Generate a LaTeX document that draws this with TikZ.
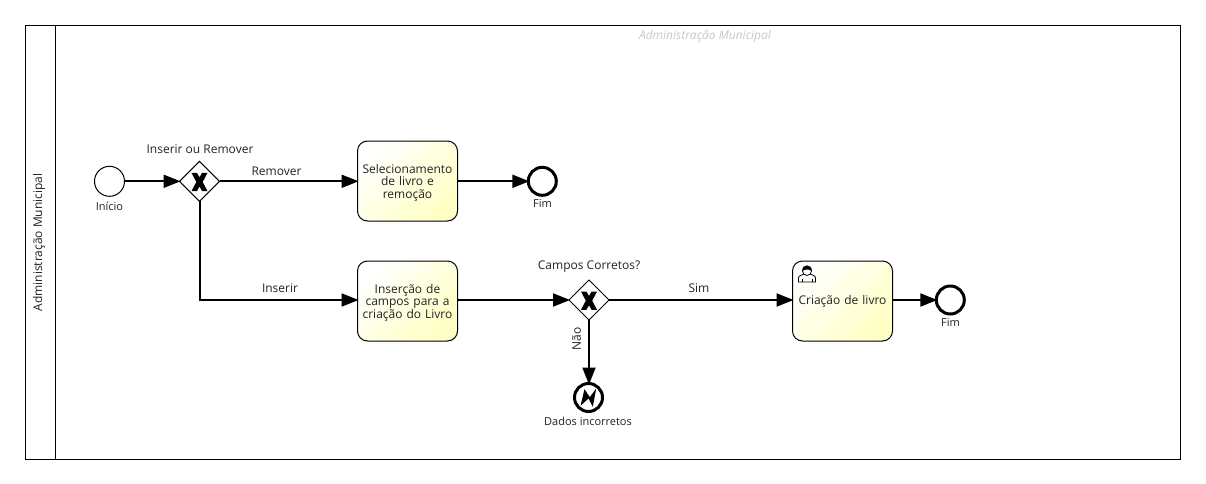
\documentclass[tikz,border=0pt]{standalone}
\usepackage{fontspec}
\setmainfont{Open Sans}
\usetikzlibrary{shapes.geometric,arrows.meta}
\definecolor{ink}{HTML}{222222}
\definecolor{tasky}{HTML}{FFFFC4}
\newcommand{\tstrut}{\rule{0pt}{12.5pt}}
\tikzset{
  x=1pt,y=-1pt,
  every node/.style={font=\fontsize{12}{12.3}\selectfont,text=ink,inner sep=0pt,outer sep=0pt},
  small/.style={font=\fontsize{11}{13}\selectfont},
  flow/.style={draw=black,line width=2pt,-{Triangle[length=17pt,width=13pt]},shorten >=-1pt},
  taskbox/.style={draw=black,line width=1pt,rounded corners=10pt,minimum width=100pt,minimum height=80pt,align=center,left color=white,right color=tasky,shading angle=45,text width=96pt},
  gate/.style={diamond,draw=black,line width=1pt,fill=white,minimum width=40pt,minimum height=40pt,aspect=1},
  startev/.style={circle,draw=black,line width=1pt,fill=white,minimum size=30pt},
  endev/.style={circle,draw=black,line width=3pt,fill=white,minimum size=28pt},
}
\begin{document}
\begin{tikzpicture}
\useasboundingbox (0,0) rectangle (1206,484);
% pool
\node[draw=black,line width=1pt,minimum width=1155pt,minimum height=434pt,anchor=north west] (pool) at (25.5,25.5) {};
\coordinate (laneT) at (55.5,25.5);
\coordinate (laneB) at (55.5,459.5);
\draw[black,line width=1pt] (laneT) -- (laneB);
\node[rotate=90] (pooltitle) at (39,242.5) {Administração Municipal};
\node[font=\fontsize{12}{13}\selectfont\itshape,text=black!22] (watermark) at (705,36.5) {Administração Municipal};
% nodes
\node[startev] (start) at (109.5,181.3) {};
\node[gate] (g1) at (199.5,181.3) {};
\node[taskbox] (t1) at (407.5,181) {\tstrut Selecionamento\\de livro e\\remoção};
\node[endev] (e1) at (542.3,181.3) {};
\node[taskbox] (t2) at (407.5,301) {\tstrut Inserção de\\campos para a\\criação do Livro};
\node[gate] (g2) at (589,300) {};
\node[endev] (err) at (588.5,397.5) {};
\node[taskbox] (t3) at (842.5,301) {Criação de livro};
\node[endev] (e3) at (950.3,300) {};
% labels
\node[small] (lstart) at (109.5,206) {Início};
\node (lg1) at (200,149.5) {Inserir ou Remover};
\node (lrem) at (276.5,171) {Remover};
\node (lins) at (280,288.5) {Inserir};
\node[small] (le1) at (542.5,203) {Fim};
\node (lg2) at (589,267) {Campos Corretos?};
\node (lsim) at (699,288.5) {Sim};
\node[rotate=90] (lnao) at (576.5,339) {Não};
\node[small] (lerr) at (588,421) {Dados incorretos};
\node[small] (le3) at (950.5,322) {Fim};
% flows
\draw[flow] (start) -- (g1);
\draw[flow] (g1) -- (t1.west |- g1);
\draw[flow] (t1.east |- e1) -- (e1);
\draw[flow] (g1.south) |- (t2.west |- g2);
\draw[flow] (t2.east |- g2) -- (g2);
\draw[flow] (g2) -- (t3.west |- g2);
\draw[flow] (t3.east |- e3) -- (e3);
\draw[flow] (g2) -- (g2 |- err.north);
% gateway markers
\foreach \g in {g1,g2}{
  \begin{scope}[shift={(\g.center)}]
    \fill[black] (-8,-8.5) -- (-2.6,-8.5) -- (0,-4) -- (2.6,-8.5) -- (8,-8.5) -- (3.2,0.7) -- (8,9.8) -- (2.6,9.8) -- (0,5.2) -- (-2.6,9.8) -- (-8,9.8) -- (-3.2,0.7) -- cycle;
  \end{scope}
}
% error lightning
\fill[black] ([shift={(-8,8.3)}]err.center) -- ([shift={(-4,-8.3)}]err.center) -- ([shift={(1.3,-0.3)}]err.center) -- ([shift={(7.7,-9)}]err.center) -- ([shift={(4.3,9.3)}]err.center) -- ([shift={(0,1)}]err.center) -- cycle;
% user icon
\begin{scope}[shift={(807,275)}]
  \draw[black,line width=.8pt,fill=white] (-8.5,7) -- (-8.5,3) .. controls (-8.5,0.5) and (-5,0) .. (-3,-1) -- (3,-1) .. controls (5,0) and (8.5,0.5) .. (8.5,3) -- (8.5,7) -- cycle;
  \draw[black,line width=.8pt,fill=white] (0,-4) circle (4.5pt);
  \fill[black] (-4.8,-4) .. controls (-5.2,-11.5) and (5.2,-11.5) .. (4.8,-4) .. controls (2.5,-6) and (-2.5,-6) .. (-4.8,-4);
  \draw[black,line width=.6pt] (-5,7) -- (-5,4) (5,7) -- (5,4);
\end{scope}
\end{tikzpicture}
\end{document}
